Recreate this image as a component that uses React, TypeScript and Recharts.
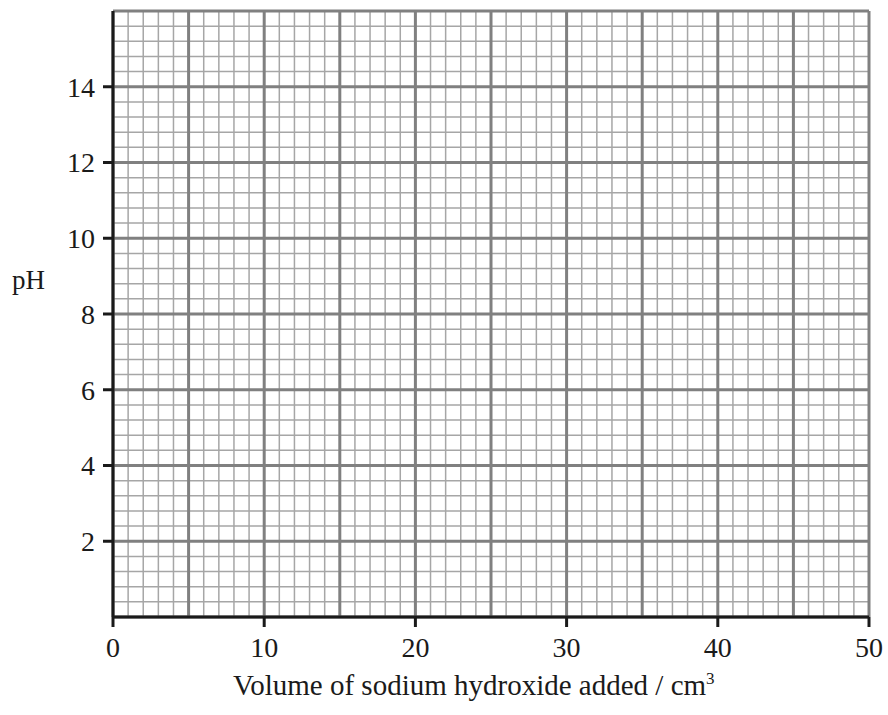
import React from 'react';
import {
  ComposedChart,
  Line,
  XAxis,
  YAxis,
  CartesianGrid,
} from 'recharts';

// Blank graph paper: pH against volume of NaOH added
const xMajorTicks = [0, 10, 20, 30, 40, 50];
const yMajorTicks = [2, 4, 6, 8, 10, 12, 14];
const xGridMajor = [0, 5, 10, 15, 20, 25, 30, 35, 40, 45, 50];
const yGridMajor = [0, 2, 4, 6, 8, 10, 12, 14, 16];
const xGridMinor = Array.from({ length: 51 }, (_, i) => i);
const yGridMinor = Array.from({ length: 41 }, (_, i) => Math.round(i * 4) / 10);
// no readings plotted yet – the grid is blank
const volumes = [0, 50];
const phReadings: (number | null)[] = [null, null];

const points = volumes.map((volume, i) => ({ volume, ph: phReadings[i] }));

const font = '"Liberation Serif", "Times New Roman", serif';
const tickStyle = { fill: '#1a1a1a', fontSize: 28, fontFamily: font };

const App: React.FC = () => {
  return (
    <div style={{ position: 'absolute', left: 0, top: 0, width: 888, height: 715, background: '#fff' }}>
      <ComposedChart
        width={888}
        height={715}
        data={points}
        margin={{ top: 11, right: 19, left: 53, bottom: 58 }}
      >
        {/* minor grid */}
        <XAxis xAxisId="minor" dataKey="volume" type="number" domain={[0, 50]} ticks={xGridMinor} interval={0} allowDataOverflow hide />
        <YAxis yAxisId="minor" dataKey="ph" type="number" domain={[0, 16]} ticks={yGridMinor} interval={0} allowDataOverflow hide />
        <CartesianGrid xAxisId="minor" yAxisId="minor" stroke="#a6a6a6" strokeWidth={1.5} />
        {/* major grid */}
        <XAxis xAxisId="major" dataKey="volume" type="number" domain={[0, 50]} ticks={xGridMajor} interval={0} allowDataOverflow hide />
        <YAxis yAxisId="major" dataKey="ph" type="number" domain={[0, 16]} ticks={yGridMajor} interval={0} allowDataOverflow hide />
        <CartesianGrid xAxisId="major" yAxisId="major" stroke="#808080" strokeWidth={3} />
        {/* visible axes */}
        <XAxis
          dataKey="volume"
          type="number"
          domain={[0, 50]}
          ticks={xMajorTicks}
          interval={0}
          allowDataOverflow
          height={40}
          tickSize={10}
          tickMargin={10}
          axisLine={{ stroke: '#1a1a1a', strokeWidth: 3 }}
          tickLine={{ stroke: '#1a1a1a', strokeWidth: 3 }}
          tick={tickStyle}
        />
        <YAxis
          dataKey="ph"
          type="number"
          domain={[0, 16]}
          ticks={yMajorTicks}
          interval={0}
          allowDataOverflow
          width={60}
          tickSize={10}
          tickMargin={8}
          axisLine={{ stroke: '#1a1a1a', strokeWidth: 3 }}
          tickLine={{ stroke: '#1a1a1a', strokeWidth: 3 }}
          tick={tickStyle}
        />
        <Line dataKey="ph" stroke="#000" dot={false} isAnimationActive={false} />
      </ComposedChart>
      <div style={{ position: 'absolute', left: 12, top: 267, fontFamily: font, fontSize: 27, lineHeight: 1, color: '#1a1a1a' }}>
        pH
      </div>
      <div
        style={{
          position: 'absolute',
          left: 233,
          top: 671,
          whiteSpace: 'nowrap',
          fontFamily: font,
          fontSize: 29,
          lineHeight: 1,
          color: '#1a1a1a',
        }}
      >
        Volume of sodium hydroxide added / cm<sup style={{ fontSize: 17, verticalAlign: 'top', position: 'relative', top: -1 }}>3</sup>
      </div>
    </div>
  );
};

export default App;
